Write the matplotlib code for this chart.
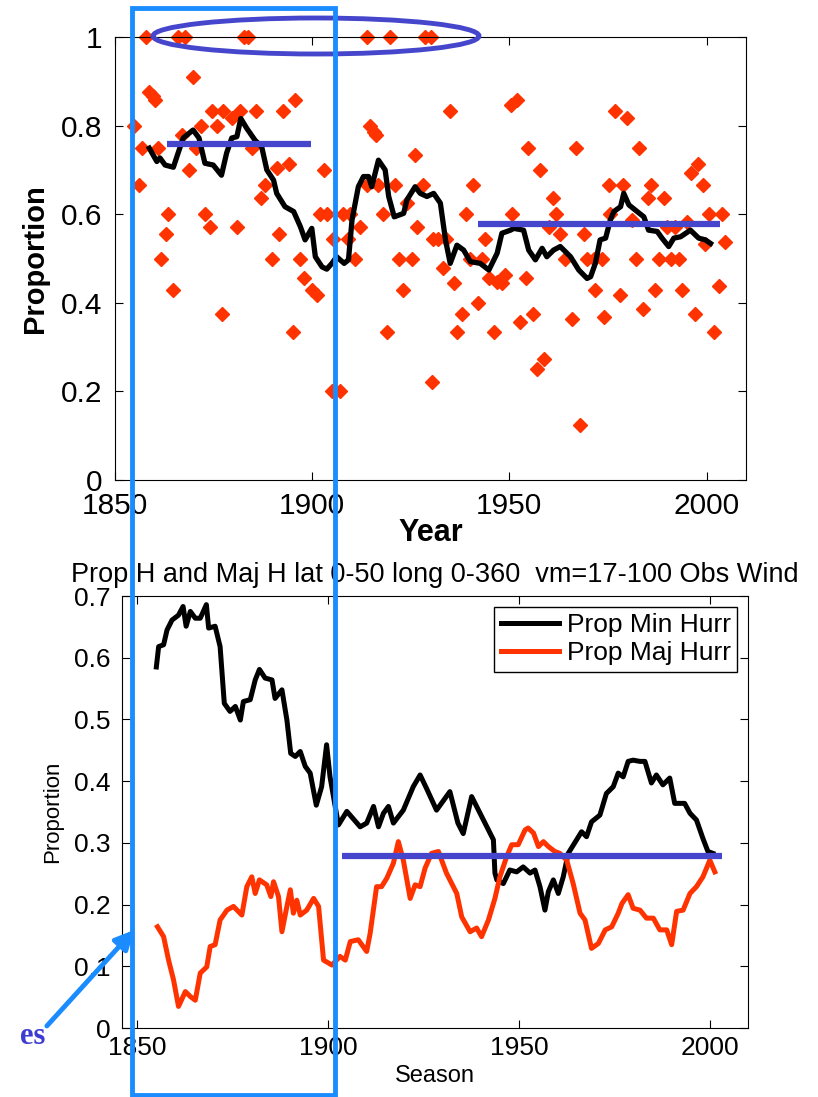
import matplotlib
matplotlib.use('Agg')
import matplotlib.pyplot as plt
from matplotlib.patches import Ellipse, Rectangle, FancyArrowPatch

plt.rcParams['font.family'] = ['Liberation Sans', 'DejaVu Sans']

# ---- top panel: yearly proportion (scatter) and its running mean ----
pt_years = [1854.7, 1856.2, 1856.8, 1857.9, 1858.7, 1859.6, 1860.2, 1860.8, 1861.7, 1862.9,
            1863.5, 1864.8, 1866.1, 1866.9, 1867.8, 1868.8, 1869.9, 1870.6, 1871.7, 1872.8,
            1874.1, 1874.5, 1875.8, 1877.1, 1877.5, 1879.6, 1880.9, 1881.7, 1882.6, 1883.8,
            1884.7, 1885.7, 1887.0, 1888.1, 1889.8, 1891.0, 1891.7, 1892.7, 1894.0, 1895.1,
            1895.7, 1897.0, 1897.8, 1899.9, 1901.2, 1902.0, 1902.9, 1903.7, 1905.0, 1905.4,
            1907.1, 1907.9, 1909.2, 1909.5, 1910.9, 1912.0, 1913.9, 1913.9, 1914.7, 1915.6,
            1916.2, 1916.8, 1917.9, 1919.0, 1919.8, 1921.1, 1921.9, 1923.0, 1924.0, 1925.3,
            1926.0, 1926.7, 1928.1, 1928.7, 1930.0, 1930.4, 1930.6, 1931.8, 1933.2, 1934.0,
            1934.9, 1935.9, 1936.7, 1938.0, 1939.1, 1940.1, 1940.8, 1942.0, 1943.1, 1943.9,
            1944.8, 1946.0, 1946.9, 1948.1, 1949.0, 1950.3, 1950.7, 1952.0, 1952.8, 1954.3,
            1954.7, 1956.0, 1957.0, 1957.7, 1958.9, 1960.0, 1961.1, 1961.9, 1962.9, 1964.2,
            1965.9, 1967.0, 1968.0, 1968.9, 1969.7, 1971.4, 1971.8, 1973.5, 1973.9, 1975.2,
            1975.6, 1976.9, 1978.0, 1978.8, 1979.8, 1981.1, 1982.2, 1982.8, 1983.9, 1985.1,
            1985.8, 1986.9, 1987.9, 1989.2, 1990.0, 1990.9, 1992.1, 1993.0, 1993.8, 1995.1,
            1996.1, 1997.0, 1997.8, 1999.1, 1999.7, 2000.6, 2002.0, 2003.1, 2004.0, 2004.8]
pt_vals = [0.800, 0.667, 0.750, 1.000, 0.875, 0.867, 0.857, 0.750, 0.500, 0.556,
           0.600, 0.429, 1.000, 0.778, 1.000, 0.700, 0.909, 0.750, 0.800, 0.600,
           0.571, 0.833, 0.800, 0.375, 0.833, 0.818, 0.571, 0.833, 1.000, 1.000,
           0.750, 0.833, 0.636, 0.667, 0.500, 0.704, 0.556, 0.833, 0.714, 0.333,
           0.857, 0.500, 0.455, 0.429, 0.417, 0.600, 0.700, 0.600, 0.200, 0.545,
           0.200, 0.600, 0.545, 0.600, 0.500, 0.571, 1.000, 0.667, 0.800, 0.786,
           0.778, 0.667, 0.600, 0.333, 1.000, 0.667, 0.500, 0.429, 0.625, 0.500,
           0.733, 0.571, 0.667, 1.000, 1.000, 0.222, 0.545, 0.545, 0.478, 0.545,
           0.833, 0.444, 0.333, 0.375, 0.600, 0.500, 0.667, 0.400, 0.500, 0.545,
           0.455, 0.333, 0.448, 0.444, 0.462, 0.846, 0.600, 0.857, 0.357, 0.455,
           0.750, 0.375, 0.250, 0.700, 0.273, 0.571, 0.636, 0.600, 0.556, 0.500,
           0.364, 0.750, 0.125, 0.556, 0.500, 0.500, 0.429, 0.500, 0.367, 0.667,
           0.600, 0.833, 0.417, 0.667, 0.818, 0.588, 0.500, 0.750, 0.385, 0.636,
           0.667, 0.429, 0.500, 0.636, 0.571, 0.500, 0.571, 0.500, 0.429, 0.583,
           0.692, 0.375, 0.714, 0.667, 0.533, 0.600, 0.333, 0.438, 0.600, 0.538]

mean_years = [1858.7, 1860.6, 1861.4, 1862.7, 1864.8, 1866.0, 1867.3, 1869.8, 1871.3, 1872.8,
              1874.9, 1877.0, 1878.3, 1879.6, 1880.9, 1881.9, 1883.4, 1885.5, 1887.2, 1888.5,
              1890.2, 1891.0, 1893.1, 1895.3, 1897.0, 1898.2, 1899.9, 1900.8, 1902.5, 1903.7,
              1905.0, 1906.2, 1908.1, 1909.2, 1910.1, 1911.7, 1913.0, 1914.3, 1915.1, 1916.8,
              1918.5, 1919.4, 1920.8, 1923.2, 1924.0, 1926.1, 1927.4, 1929.1, 1930.8, 1932.5,
              1933.8, 1935.0, 1936.7, 1938.4, 1940.1, 1942.6, 1944.8, 1946.9, 1948.1, 1950.3,
              1951.1, 1953.6, 1954.9, 1956.6, 1958.3, 1959.5, 1961.2, 1962.9, 1965.5, 1967.6,
              1969.7, 1970.6, 1971.8, 1973.0, 1974.4, 1975.6, 1976.5, 1978.2, 1979.0, 1980.3,
              1982.4, 1984.1, 1985.3, 1987.5, 1988.7, 1990.4, 1991.7, 1993.4, 1995.9, 1998.0,
              1999.7, 2001.0]
mean_vals = [0.749, 0.719, 0.727, 0.711, 0.706, 0.738, 0.772, 0.790, 0.772, 0.715,
             0.711, 0.688, 0.738, 0.772, 0.775, 0.816, 0.794, 0.767, 0.752, 0.700,
             0.677, 0.647, 0.617, 0.606, 0.572, 0.542, 0.568, 0.504, 0.481, 0.476,
             0.489, 0.504, 0.489, 0.497, 0.587, 0.662, 0.685, 0.685, 0.662, 0.722,
             0.700, 0.640, 0.594, 0.602, 0.632, 0.662, 0.647, 0.640, 0.647, 0.625,
             0.542, 0.489, 0.530, 0.519, 0.493, 0.489, 0.474, 0.512, 0.557, 0.564,
             0.568, 0.564, 0.519, 0.497, 0.523, 0.504, 0.519, 0.527, 0.504, 0.474,
             0.455, 0.459, 0.489, 0.542, 0.546, 0.587, 0.606, 0.617, 0.647, 0.621,
             0.606, 0.594, 0.564, 0.561, 0.546, 0.527, 0.546, 0.549, 0.564, 0.546,
             0.542, 0.534]

# hand-drawn period means on the top panel
top_seg_years = [(1863.1, 1899.7), (1942.0, 2003.4)]
top_seg_vals = [0.758, 0.579]

# ---- bottom panel: smoothed proportions ----
min_years = [1855.0, 1855.6, 1856.9, 1857.8, 1859.1, 1860.8, 1862.0, 1862.8, 1863.9, 1865.2,
             1866.5, 1868.1, 1868.7, 1870.4, 1871.7, 1872.8, 1874.3, 1875.7, 1877.0, 1877.8,
             1879.6, 1880.9, 1882.0, 1883.5, 1885.3, 1886.1, 1887.9, 1889.2, 1890.2, 1891.4,
             1892.7, 1894.0, 1895.3, 1896.9, 1898.3, 1899.6, 1900.5, 1902.7, 1904.9, 1908.4,
             1910.1, 1911.9, 1913.2, 1914.5, 1915.8, 1917.1, 1919.7, 1922.3, 1924.1, 1925.8,
             1928.4, 1931.9, 1934.0, 1935.4, 1937.6, 1939.8, 1942.0, 1943.3, 1943.7, 1944.2,
             1945.9, 1947.6, 1949.4, 1951.1, 1952.9, 1954.2, 1955.5, 1956.8, 1957.7, 1959.0,
             1960.3, 1961.6, 1962.9, 1965.1, 1966.4, 1967.7, 1969.0, 1971.2, 1972.9, 1974.7,
             1976.0, 1977.3, 1978.6, 1979.9, 1981.7, 1983.0, 1984.7, 1986.0, 1987.7, 1989.5,
             1990.8, 1993.4, 1994.8, 1996.5, 1998.2, 1999.5, 2000.8]
min_vals = [0.585, 0.618, 0.621, 0.645, 0.661, 0.669, 0.683, 0.651, 0.675, 0.664,
            0.664, 0.686, 0.648, 0.651, 0.618, 0.526, 0.513, 0.521, 0.499, 0.529,
            0.532, 0.564, 0.581, 0.567, 0.564, 0.534, 0.548, 0.499, 0.445, 0.440,
            0.448, 0.424, 0.413, 0.361, 0.391, 0.459, 0.407, 0.329, 0.351, 0.326,
            0.332, 0.359, 0.326, 0.348, 0.359, 0.332, 0.353, 0.391, 0.410, 0.388,
            0.353, 0.383, 0.332, 0.315, 0.375, 0.348, 0.321, 0.305, 0.251, 0.240,
            0.234, 0.256, 0.253, 0.261, 0.251, 0.256, 0.229, 0.191, 0.221, 0.240,
            0.218, 0.245, 0.283, 0.305, 0.318, 0.310, 0.334, 0.345, 0.380, 0.391,
            0.413, 0.407, 0.432, 0.434, 0.432, 0.432, 0.397, 0.410, 0.394, 0.405,
            0.364, 0.364, 0.348, 0.337, 0.307, 0.286, 0.283]

maj_years = [1855.3, 1856.9, 1858.2, 1859.5, 1860.8, 1862.6, 1863.9, 1865.2, 1866.5, 1868.2,
             1869.1, 1870.4, 1871.7, 1873.5, 1875.2, 1877.4, 1878.7, 1880.0, 1880.9, 1882.0,
             1883.9, 1885.0, 1885.7, 1887.0, 1887.9, 1889.2, 1890.1, 1890.9, 1891.8, 1892.7,
             1894.4, 1896.2, 1897.5, 1898.8, 1901.0, 1903.1, 1904.5, 1905.8, 1907.9, 1910.1,
             1911.0, 1912.7, 1914.0, 1915.4, 1917.1, 1918.4, 1919.7, 1921.5, 1922.8, 1924.1,
             1925.4, 1927.1, 1928.9, 1931.0, 1933.7, 1935.0, 1937.2, 1938.9, 1940.2, 1942.0,
             1943.7, 1945.0, 1946.8, 1948.1, 1949.8, 1951.6, 1952.4, 1953.8, 1955.1, 1956.4,
             1957.7, 1959.4, 1960.7, 1962.5, 1964.2, 1966.0, 1967.3, 1969.0, 1970.8, 1972.6,
             1974.3, 1976.0, 1977.0, 1978.6, 1979.9, 1981.7, 1983.4, 1985.2, 1986.9, 1988.7,
             1990.0, 1991.3, 1993.0, 1994.8, 1996.5, 1998.2, 2000.0, 2001.3]
maj_vals = [0.164, 0.148, 0.110, 0.078, 0.035, 0.059, 0.051, 0.045, 0.089, 0.099,
            0.132, 0.135, 0.175, 0.191, 0.197, 0.183, 0.229, 0.245, 0.218, 0.240,
            0.232, 0.213, 0.237, 0.213, 0.156, 0.197, 0.224, 0.186, 0.207, 0.183,
            0.191, 0.210, 0.197, 0.110, 0.102, 0.116, 0.110, 0.140, 0.143, 0.124,
            0.153, 0.229, 0.229, 0.243, 0.267, 0.302, 0.272, 0.210, 0.232, 0.229,
            0.259, 0.283, 0.286, 0.251, 0.218, 0.180, 0.156, 0.162, 0.148, 0.175,
            0.210, 0.245, 0.278, 0.297, 0.297, 0.321, 0.324, 0.316, 0.294, 0.302,
            0.294, 0.286, 0.283, 0.272, 0.234, 0.186, 0.175, 0.129, 0.137, 0.159,
            0.164, 0.186, 0.202, 0.216, 0.194, 0.191, 0.178, 0.178, 0.159, 0.159,
            0.135, 0.189, 0.191, 0.218, 0.229, 0.245, 0.272, 0.253]

bot_seg_years = (1903.6, 2003.3)
bot_seg_val = 0.279

top_xticks = [1850, 1900, 1950, 2000]
top_yticks = [0, 0.2, 0.4, 0.6, 0.8, 1]
bot_yticks = [0, 0.1, 0.2, 0.3, 0.4, 0.5, 0.6, 0.7]
title_txt = 'Prop H and Maj H lat 0-50 long 0-360  vm=17-100 Obs Wind'

RED = '#ff3300'
ANNOT = '#4646cc'
BRIGHT = '#1a8cff'

W, H = 818, 1097
fig = plt.figure(figsize=(W / 100, H / 100), dpi=100)

def tick_fmt(v):
    return '0' if v == 0 else ('1' if v == 1 else ('%g' % v))

# top axes
ax1 = fig.add_axes([115 / W, 1 - 480 / H, 631 / W, 443 / H])
ax1.plot(pt_years, pt_vals, 'D', color=RED, ms=7.2, mec=RED, clip_on=False, zorder=2)
ax1.plot(mean_years, mean_vals, color='black', lw=3.8, solid_joinstyle='round', zorder=3)
for (x0, x1), v in zip(top_seg_years, top_seg_vals):
    ax1.plot([x0, x1], [v, v], color=ANNOT, lw=4.5, solid_capstyle='butt', zorder=4)
ax1.set_xlim(1850, 2010)
ax1.set_ylim(0, 1)
ax1.set_xticks(top_xticks)
ax1.set_yticks(top_yticks)
ax1.set_yticklabels([tick_fmt(v) for v in top_yticks])
ax1.tick_params(direction='in', top=True, right=True, length=6, labelsize=21.5)
ax1.tick_params(axis='x', pad=9)
ax1.tick_params(axis='y', pad=9)
ax1.set_xlabel('Year', fontsize=22, fontweight='bold', labelpad=-2)
ax1.set_ylabel('Proportion', fontsize=21, fontweight='bold', labelpad=9)

# bottom axes
ax2 = fig.add_axes([122 / W, 1 - 1028 / H, 626 / W, 432 / H])
ax2.plot(min_years, min_vals, color='black', lw=3.6, label='Prop Min Hurr', solid_joinstyle='round')
ax2.plot(maj_years, maj_vals, color=RED, lw=3.6, label='Prop Maj Hurr', solid_joinstyle='round')
ax2.plot(bot_seg_years, [bot_seg_val, bot_seg_val], color=ANNOT, lw=4.5, solid_capstyle='butt')
ax2.set_xlim(1846, 2010)
ax2.set_ylim(0, 0.7)
ax2.set_xticks(top_xticks)
ax2.set_yticks(bot_yticks)
ax2.set_yticklabels([tick_fmt(v) for v in bot_yticks])
ax2.tick_params(direction='in', top=True, right=True, length=6, labelsize=19)
ax2.tick_params(axis='x', pad=6)
ax2.tick_params(axis='y', pad=8)
ax2.set_xlabel('Season', fontsize=17, labelpad=3)
ax2.set_ylabel('Proportion', fontsize=16, labelpad=8)
ax2.set_title(title_txt, fontsize=19.5, pad=10)
handles, labels = ax2.get_legend_handles_labels()
leg = ax2.legend(handles[:2], labels[:2], loc='upper right', fontsize=19, fancybox=False,
                 edgecolor='black', framealpha=1, handlelength=2.2, handletextpad=0.3,
                 borderaxespad=0.4, labelspacing=0.15, borderpad=0.25)
leg.get_frame().set_linewidth(1.0)

# overlay annotations in pixel coordinates
ov = fig.add_axes([0, 0, 1, 1])
ov.set_xlim(0, W)
ov.set_ylim(H, 0)
ov.axis('off')
ov.patch.set_alpha(0)
ov.add_patch(Ellipse((316, 36), 326, 36, fill=False, edgecolor=ANNOT, lw=3.5))
ov.add_patch(Rectangle((131.5, 8), 203.5, 1087, fill=False, edgecolor=BRIGHT, lw=3.5))
ov.add_patch(FancyArrowPatch((45, 1028), (136, 928), arrowstyle='-|>', mutation_scale=28,
                             color=BRIGHT, lw=3.5))
ov.text(20, 1036, 'es', fontsize=22, fontweight='bold', color='#3c3cd2',
        family=['Liberation Serif', 'DejaVu Serif'], va='center', ha='left')

fig.savefig('out.png', dpi=100)
